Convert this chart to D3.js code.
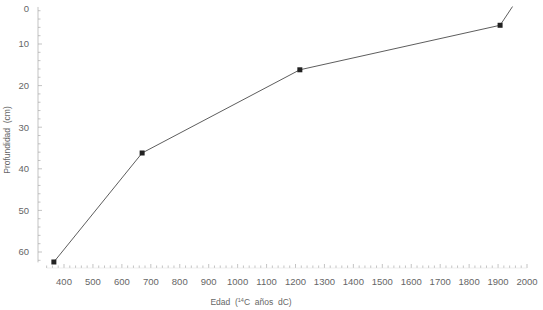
<!DOCTYPE html>
<html>
<head>
<meta charset="utf-8">
<script src="https://cdnjs.cloudflare.com/ajax/libs/d3/7.8.5/d3.min.js"></script>
<style>
  body { margin: 0; background: #fff; }
  text { font-family: "Liberation Sans", Arial, sans-serif; fill: #666; white-space: pre; }
</style>
</head>
<body>
<svg width="543" height="310"></svg>
<script>
// data
const ages = [365, 670, 1215, 1907, 1950];
const depths = [62.4, 36.2, 16.2, 5.5, 1];
const dated = [true, true, true, true, false];
const xTicks = [400, 500, 600, 700, 800, 900, 1000, 1100, 1200, 1300, 1400, 1500, 1600, 1700, 1800, 1900, 2000];
const yTicks = [0, 10, 20, 30, 40, 50, 60];

const data = ages.map((a, i) => ({ age: a, depth: depths[i], dated: dated[i] }));

const svg = d3.select('svg');

const xScale = d3.scaleLinear()
  .domain([400, 2000])
  .range([64, 527]);

const yScale = d3.scaleLinear()
  .domain([10, 60])
  .range([44, 252]);

const axisX = 38;
const baseY = 267;

// y axis
const yg = svg.append('g');
yg.append('line')
  .attr('x1', axisX).attr('x2', axisX)
  .attr('y1', yScale(1.1)).attr('y2', yScale(62.5))
  .attr('stroke', '#aaa').attr('stroke-width', 0.7);

yg.selectAll('.ymin').data(d3.range(2, 63, 2))
  .enter().append('line')
  .attr('x1', axisX).attr('x2', d => axisX + (d % 10 === 0 ? 4 : 2.5))
  .attr('y1', d => yScale(d)).attr('y2', d => yScale(d))
  .attr('stroke', '#aaa').attr('stroke-width', 0.7);

yg.selectAll('.ylab').data(yTicks)
  .enter().append('text')
  .attr('x', 29)
  .attr('y', d => Math.max(yScale(d), 9))
  .attr('dy', '0.35em')
  .attr('text-anchor', 'end')
  .style('font-size', '9.5px')
  .text(d => d);

svg.append('text')
  .attr('transform', `translate(10,${140}) rotate(-90)`)
  .attr('text-anchor', 'middle')
  .style('font-size', '8.5px')
  .text('Profundidad  (cm)');

// x axis
const xg = svg.append('g');
xg.selectAll('.xmin').data(d3.range(340, 2001, 20))
  .enter().append('line')
  .attr('x1', d => xScale(d)).attr('x2', d => xScale(d))
  .attr('y1', baseY + 1).attr('y2', d => baseY + 1 - (d % 100 === 0 ? 4 : 2.5))
  .attr('stroke', '#aaa').attr('stroke-width', 0.7);

xg.append('line')
  .attr('x1', xScale(340)).attr('x2', xScale(2000))
  .attr('y1', baseY + 1).attr('y2', baseY + 1)
  .attr('stroke', '#ddd').attr('stroke-width', 0.5);

xg.selectAll('.xlab').data(xTicks)
  .enter().append('text')
  .attr('x', d => xScale(d))
  .attr('y', 282)
  .attr('dy', '0.35em')
  .attr('text-anchor', 'middle')
  .style('font-size', '9.5px')
  .text(d => d);

const xt = svg.append('text')
  .attr('x', 251)
  .attr('y', 305)
  .attr('text-anchor', 'middle')
  .style('font-size', '8.5px');
xt.append('tspan').text('Edad  (');
xt.append('tspan').attr('dy', -3).style('font-size', '5.5px').text('14');
xt.append('tspan').attr('dy', 3).text('C  años  dC)');

// line
const line = d3.line()
  .x(d => xScale(d.age))
  .y(d => yScale(d.depth));

svg.append('path')
  .datum(data)
  .attr('d', line)
  .attr('fill', 'none')
  .attr('stroke', '#333')
  .attr('stroke-width', 0.8);

svg.selectAll('.pt').data(data.filter(d => d.dated))
  .enter().append('rect')
  .attr('x', d => xScale(d.age) - 2.5)
  .attr('y', d => yScale(d.depth) - 2.5)
  .attr('width', 5)
  .attr('height', 5)
  .attr('fill', '#222');
</script>
</body>
</html>
